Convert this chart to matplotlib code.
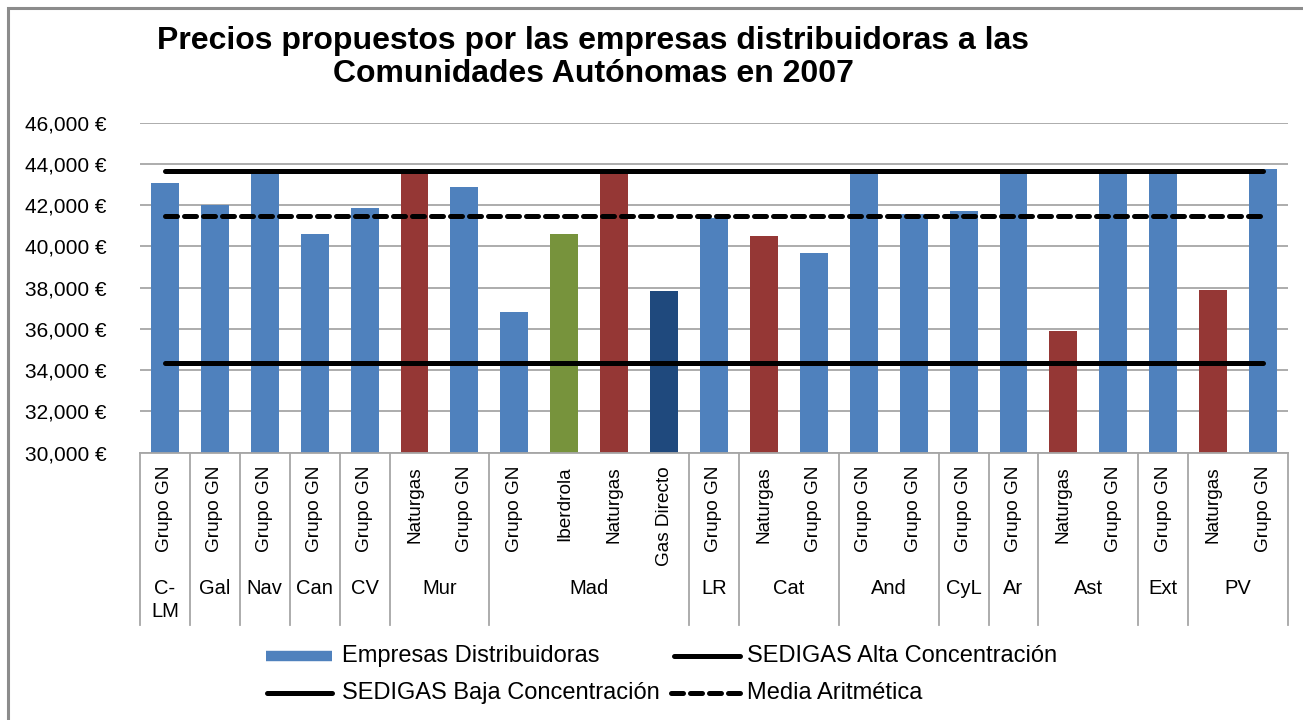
import matplotlib
matplotlib.use("Agg")
import matplotlib.pyplot as plt
from matplotlib.lines import Line2D
from matplotlib.patches import Rectangle

plt.rcParams['font.family'] = ['Liberation Sans', 'DejaVu Sans']

# ---- data ----
regions = ['C-\nLM', 'Gal', 'Nav', 'Can', 'CV', 'Mur', 'Mad', 'LR', 'Cat',
           'And', 'CyL', 'Ar', 'Ast', 'Ext', 'PV']
region_sizes = [1, 1, 1, 1, 1, 2, 4, 1, 2, 2, 1, 1, 2, 1, 2]
companies = ['Grupo GN', 'Grupo GN', 'Grupo GN', 'Grupo GN', 'Grupo GN',
             'Naturgas', 'Grupo GN',
             'Grupo GN', 'Iberdrola', 'Naturgas', 'Gas Directo',
             'Grupo GN',
             'Naturgas', 'Grupo GN',
             'Grupo GN', 'Grupo GN',
             'Grupo GN',
             'Grupo GN',
             'Naturgas', 'Grupo GN',
             'Grupo GN',
             'Naturgas', 'Grupo GN']
prices = [43100, 42020, 43700, 40590, 41880,
          43700, 42880,
          36840, 40590, 43700, 37840,
          41400,
          40490, 39700,
          43700, 41590,
          41720,
          43700,
          35900, 43700,
          43700,
          37900, 43750]
sedigas_alta = 43680
sedigas_baja = 34340
media = 41490
yticks = [30000, 32000, 34000, 36000, 38000, 40000, 42000, 44000, 46000]

company_colors = {'Grupo GN': '#4F81BD', 'Naturgas': '#953735',
                  'Iberdrola': '#77933C', 'Gas Directo': '#1F497D'}

W, H = 1303, 720
fig = plt.figure(figsize=(W / 100, H / 100), dpi=100)
fig.patch.set_facecolor('white')

# outer frame
fig.add_artist(Rectangle((8 / W, -0.05), 1.2, (712 / H) + 0.05,
                         transform=fig.transFigure, fill=False,
                         edgecolor='#8C8C8C', linewidth=2.2))

ax = fig.add_axes([140 / W, 1 - 452.7 / H, (1288 - 140) / W, (452.7 - 122.7) / H])
n = len(prices)
x = list(range(n))
ax.bar(x, prices, width=0.56, color=[company_colors[c] for c in companies],
       zorder=2)
ax.set_xlim(-0.5, n - 0.5)
ax.set_ylim(30000, 46000)
ax.set_yticks(yticks)
ax.set_yticklabels([f"{v:,} €" for v in yticks], fontsize=15)
ax.tick_params(axis='y', length=0, pad=24)
ax.tick_params(axis='x', length=0, labelbottom=False)
ax.grid(axis='y', color='#A6A6A6', linewidth=1.3, zorder=0)
for s in ['left', 'right', 'top']:
    ax.spines[s].set_visible(False)
ax.spines['bottom'].set_color('#A6A6A6')
ax.spines['bottom'].set_linewidth(1.3)
ax.spines['bottom'].set_zorder(3)

lw = 3.6
ax.plot([x[0], x[-1]], [sedigas_alta] * 2, color='black', lw=lw,
        solid_capstyle='round', zorder=4)
ax.plot([x[0], x[-1]], [sedigas_baja] * 2, color='black', lw=lw,
        solid_capstyle='round', zorder=4)
ax.plot([x[0], x[-1]], [media] * 2, color='black', lw=lw,
        dashes=(2.4, 1.4), dash_capstyle='round', zorder=4)

# two-level category axis
trans = ax.get_xaxis_transform()
axh = 452.7 - 122.7
sep_bottom = -(625 - 452.7) / axh
inner_top = -(466 - 452.7) / axh
outer_top = -(579 - 452.7) / axh
for i, c in enumerate(companies):
    ax.text(i, inner_top, c, rotation=90, ha='center', va='top',
            fontsize=13.7, transform=trans, clip_on=False)
start = 0
bounds = [0]
for r, sz in zip(regions, region_sizes):
    centre = start + (sz - 1) / 2
    ax.text(centre, outer_top, r, ha='center', va='top', fontsize=14.5,
            transform=trans, clip_on=False, linespacing=1.25)
    start += sz
    bounds.append(start)
for b in bounds:
    ax.plot([b - 0.5, b - 0.5], [0, sep_bottom], color='#A6A6A6', lw=1.3,
            transform=trans, clip_on=False)

# title
fig.text(593 / W, 1 - 41 / H, 'Precios propuestos por las empresas distribuidoras a las',
         ha='center', va='center', fontsize=23, fontweight='bold')
fig.text(593 / W, 1 - 74 / H, 'Comunidades Autónomas en 2007',
         ha='center', va='center', fontsize=23, fontweight='bold')

# legend (drawn manually to match layout)
leg_fs = 17
def leg_line(x0, x1, y, **kw):
    fig.add_artist(Line2D([x0 / W, x1 / W], [1 - y / H, 1 - y / H],
                          transform=fig.transFigure, **kw))
leg_line(266, 332, 656, color='#4F81BD', lw=7.5, solid_capstyle='butt')
fig.text(342 / W, 1 - 656 / H, 'Empresas Distribuidoras', va='center', fontsize=leg_fs)
leg_line(267, 332, 693, color='black', lw=lw, solid_capstyle='round')
fig.text(342 / W, 1 - 693 / H, 'SEDIGAS Baja Concentración', va='center', fontsize=leg_fs)
leg_line(674, 740, 656, color='black', lw=lw, solid_capstyle='round')
fig.text(747 / W, 1 - 656 / H, 'SEDIGAS Alta Concentración', va='center', fontsize=leg_fs)
leg_line(671, 740, 693, color='black', lw=lw, dashes=(2.4, 1.4), dash_capstyle='round')
fig.text(747 / W, 1 - 693 / H, 'Media Aritmética', va='center', fontsize=leg_fs)

fig.savefig('out.png', dpi=100)
